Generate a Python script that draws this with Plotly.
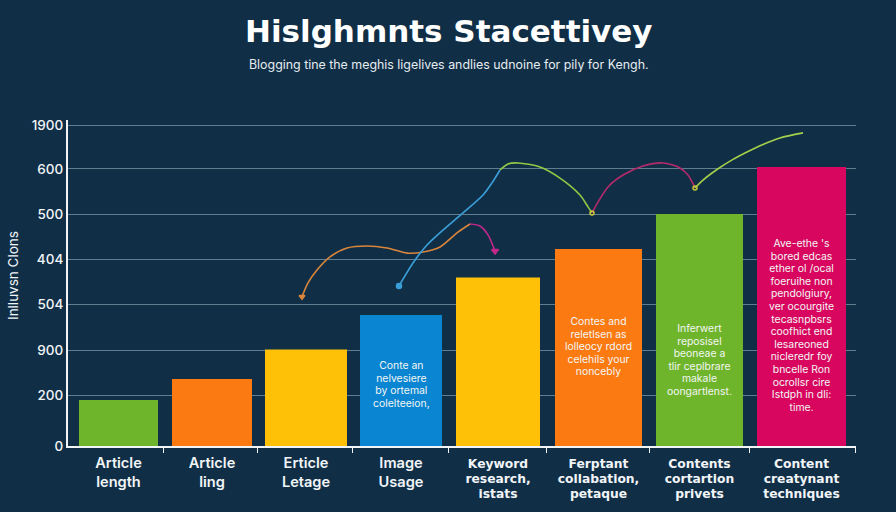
import plotly.graph_objects as go

# ---- data ----
categories_short = ["Article<br>length", "Article<br>ling", "Erticle<br>Letage", "Image<br>Usage"]
categories_long = ["Keyword<br>research,<br>istats", "Ferptant<br>collabation,<br>petaque",
                   "Contents<br>cortartion<br>privets", "Content<br>creatynant<br>techniques"]
values_short = [182, 265, 382, 519]
values_long = [667, 780, 919, 1105]
y_tick_values = [0, 200, 380, 560, 738, 918, 1097, 1270]
y_tick_labels = ["0", "200", "900", "504", "404", "500", "600", "1900"]

orange_x = [302, 308, 317, 330, 347, 367, 387, 407, 423, 440, 457, 470]
orange_y = [591, 646, 697, 749, 784, 792, 784, 764, 768, 788, 844, 879]
magenta_x = [470, 480, 488, 495]
magenta_y = [879, 871, 836, 772]
blue_x = [399, 413, 427, 443, 463, 483, 492, 500]
blue_y = [634, 725, 796, 855, 923, 994, 1042, 1093]
green_x = [500, 508, 518, 540, 560, 580, 588, 592]
green_y = [1093, 1117, 1121, 1105, 1061, 994, 947, 923]
rose_x = [592, 598, 608, 623, 643, 663, 680, 688, 695]
rose_y = [923, 966, 1026, 1073, 1109, 1121, 1101, 1073, 1022]
lime_x = [695, 703, 717, 733, 747, 763, 780, 803]
lime_y = [1022, 1053, 1095, 1135, 1164, 1194, 1220, 1240]

blue_note = ["Conte an", "nelvesiere", "by ortemal", "colelteeion,"]
orange_note = ["Contes and", "reletlsen as", "lolleocy rdord", "celehils your", "noncebly"]
green_note = ["Inferwert", "reposisel", "beoneae a", "tlir ceplbrare", "makale", "oongartlenst."]
pink_note = ["Ave-ethe 's", "bored edcas", "ether ol /ocal", "foeruihe non", "pendolgiury,",
             "ver ocourgite", "tecasnpbsrs", "coofhict end", "lesareoned", "nicleredr foy",
             "bncelle Ron", "ocrollsr cire", "Istdph in dli:", "time."]

# ---- layout and style ----
BG = "#102f47"
GRID = "#5f7d8f"
WHITE = "#f2f5f7"
centers_short = [118.5, 212, 306, 401]
centers_long = [498, 598.5, 699.5, 801.5]
widths_short = [79, 80, 82, 82]
widths_long = [84, 87, 87, 89]
colors_short = ["#6fb52c", "#fb7a12", "#ffc107", "#0a85d1"]
colors_long = ["#ffc107", "#fb7a12", "#6fb52c", "#d8065f"]
axis_ticks = [163, 257, 352, 448, 546, 649, 749, 855]
FONT = "Inter"


def sized(label, px):
    return "<br>".join(f'<span style="font-size:{px}px">{p}</span>' for p in label.split("<br>"))


fig = go.Figure()
fig.add_bar(x=centers_short, y=values_short, width=widths_short,
            marker=dict(color=colors_short, line_width=0), hoverinfo="skip")
fig.add_bar(x=centers_long, y=values_long, width=widths_long, xaxis="x2",
            marker=dict(color=colors_long, line_width=0), hoverinfo="skip")


def curve(xs, ys, color):
    fig.add_scatter(x=xs, y=ys, mode="lines", xaxis="x2",
                    line=dict(color=color, width=1.6, shape="spline", smoothing=0.8), hoverinfo="skip")


def end_mark(x, y, color, symbol, size=8):
    fig.add_scatter(x=[x], y=[y], mode="markers", hoverinfo="skip", xaxis="x2",
                    marker=dict(color=color, symbol=symbol, size=size,
                                line=dict(color=color, width=1.5)))


curve(orange_x, orange_y, "#d9853b")
curve(magenta_x, magenta_y, "#c2288a")
curve(blue_x, blue_y, "#3a9fd8")
curve(green_x, green_y, "#8fca45")
curve(rose_x, rose_y, "#b52a6a")
curve(lime_x, lime_y, "#a5d04a")
end_mark(orange_x[0], orange_y[0], "#d9853b", "triangle-down", 5)
end_mark(magenta_x[-1], magenta_y[-1], "#c2288a", "triangle-down", 6)
end_mark(blue_x[0], blue_y[0], "#3a9fd8", "circle", 5)
end_mark(green_x[-1], green_y[-1], "#c8c93a", "circle-open", 4)
end_mark(rose_x[-1], rose_y[-1], "#c8c93a", "circle-open", 4)


def note(lines, x, y):
    fig.add_annotation(x=x, y=y, xref="x2", yref="y", text=sized("<br>".join(lines), 10.4),
                       showarrow=False, align="center",
                       font=dict(family=FONT, size=9.7, color="#f3f6f4"))


note(blue_note, centers_short[3], 245)
note(orange_note, centers_long[1], 396)
note(green_note, centers_long[2], 340)
note(pink_note, centers_long[3], 479)

fig.add_annotation(xref="paper", yref="paper", x=0, y=0.5, text="Inlluvsn Clons", textangle=-90,
                   xshift=-65, yshift=7, showarrow=False,
                   font=dict(family=FONT, size=13.5, color=WHITE))
fig.add_annotation(xref="paper", yref="paper", x=0.4835, y=1, yshift=89, yanchor="middle",
                   text="<b>Hislghmnts Stacettivey</b>", showarrow=False,
                   font=dict(family="DejaVu Sans", size=31, color="#ffffff"))
fig.add_annotation(xref="paper", yref="paper", x=0.4835, y=1, yshift=56, yanchor="middle",
                   text="Blogging tine the meghis ligelives andlies udnoine for pily for Kengh.",
                   showarrow=False, font=dict(family=FONT, size=12.4, color="#e6ecef"))

common_x = dict(range=[68, 856], tickmode="array", ticks="", showgrid=False, zeroline=False, tickangle=0)
fig.update_layout(
    width=896, height=512, autosize=False, showlegend=False, barmode="overlay",
    paper_bgcolor=BG, plot_bgcolor=BG,
    margin=dict(l=68, r=40, t=120, b=66),
    font=dict(family=FONT, color=WHITE),
    xaxis=dict(tickvals=centers_short, ticktext=categories_short, showline=True,
               linecolor=WHITE, linewidth=2, ticklabelstandoff=2,
               tickfont=dict(family=FONT, size=14.6, color=WHITE, weight=600),
               minor=dict(tickmode="array", tickvals=axis_ticks, ticks="outside", ticklen=5,
                          tickcolor=WHITE, tickwidth=1, showgrid=False), **common_x),
    xaxis2=dict(overlaying="x", anchor="y", side="bottom", ticklabelstandoff=10,
                tickvals=centers_long, ticktext=[sized(c, 12.3) for c in categories_long],
                tickfont=dict(family="DejaVu Sans", size=11.3, color=WHITE, weight=700), **common_x),
    yaxis=dict(range=[0, 1291], tickmode="array", tickvals=y_tick_values, ticktext=y_tick_labels,
               ticks="", showgrid=True, gridcolor=GRID, gridwidth=1, zeroline=False,
               showline=True, linecolor=WHITE, linewidth=2,
               tickfont=dict(family=FONT, size=13.5, color=WHITE, weight=500)),
)
fig.write_html("out.html", config=dict(displayModeBar=False),
               post_script=f"document.body.style.margin='0';document.body.style.background='{BG}';")
